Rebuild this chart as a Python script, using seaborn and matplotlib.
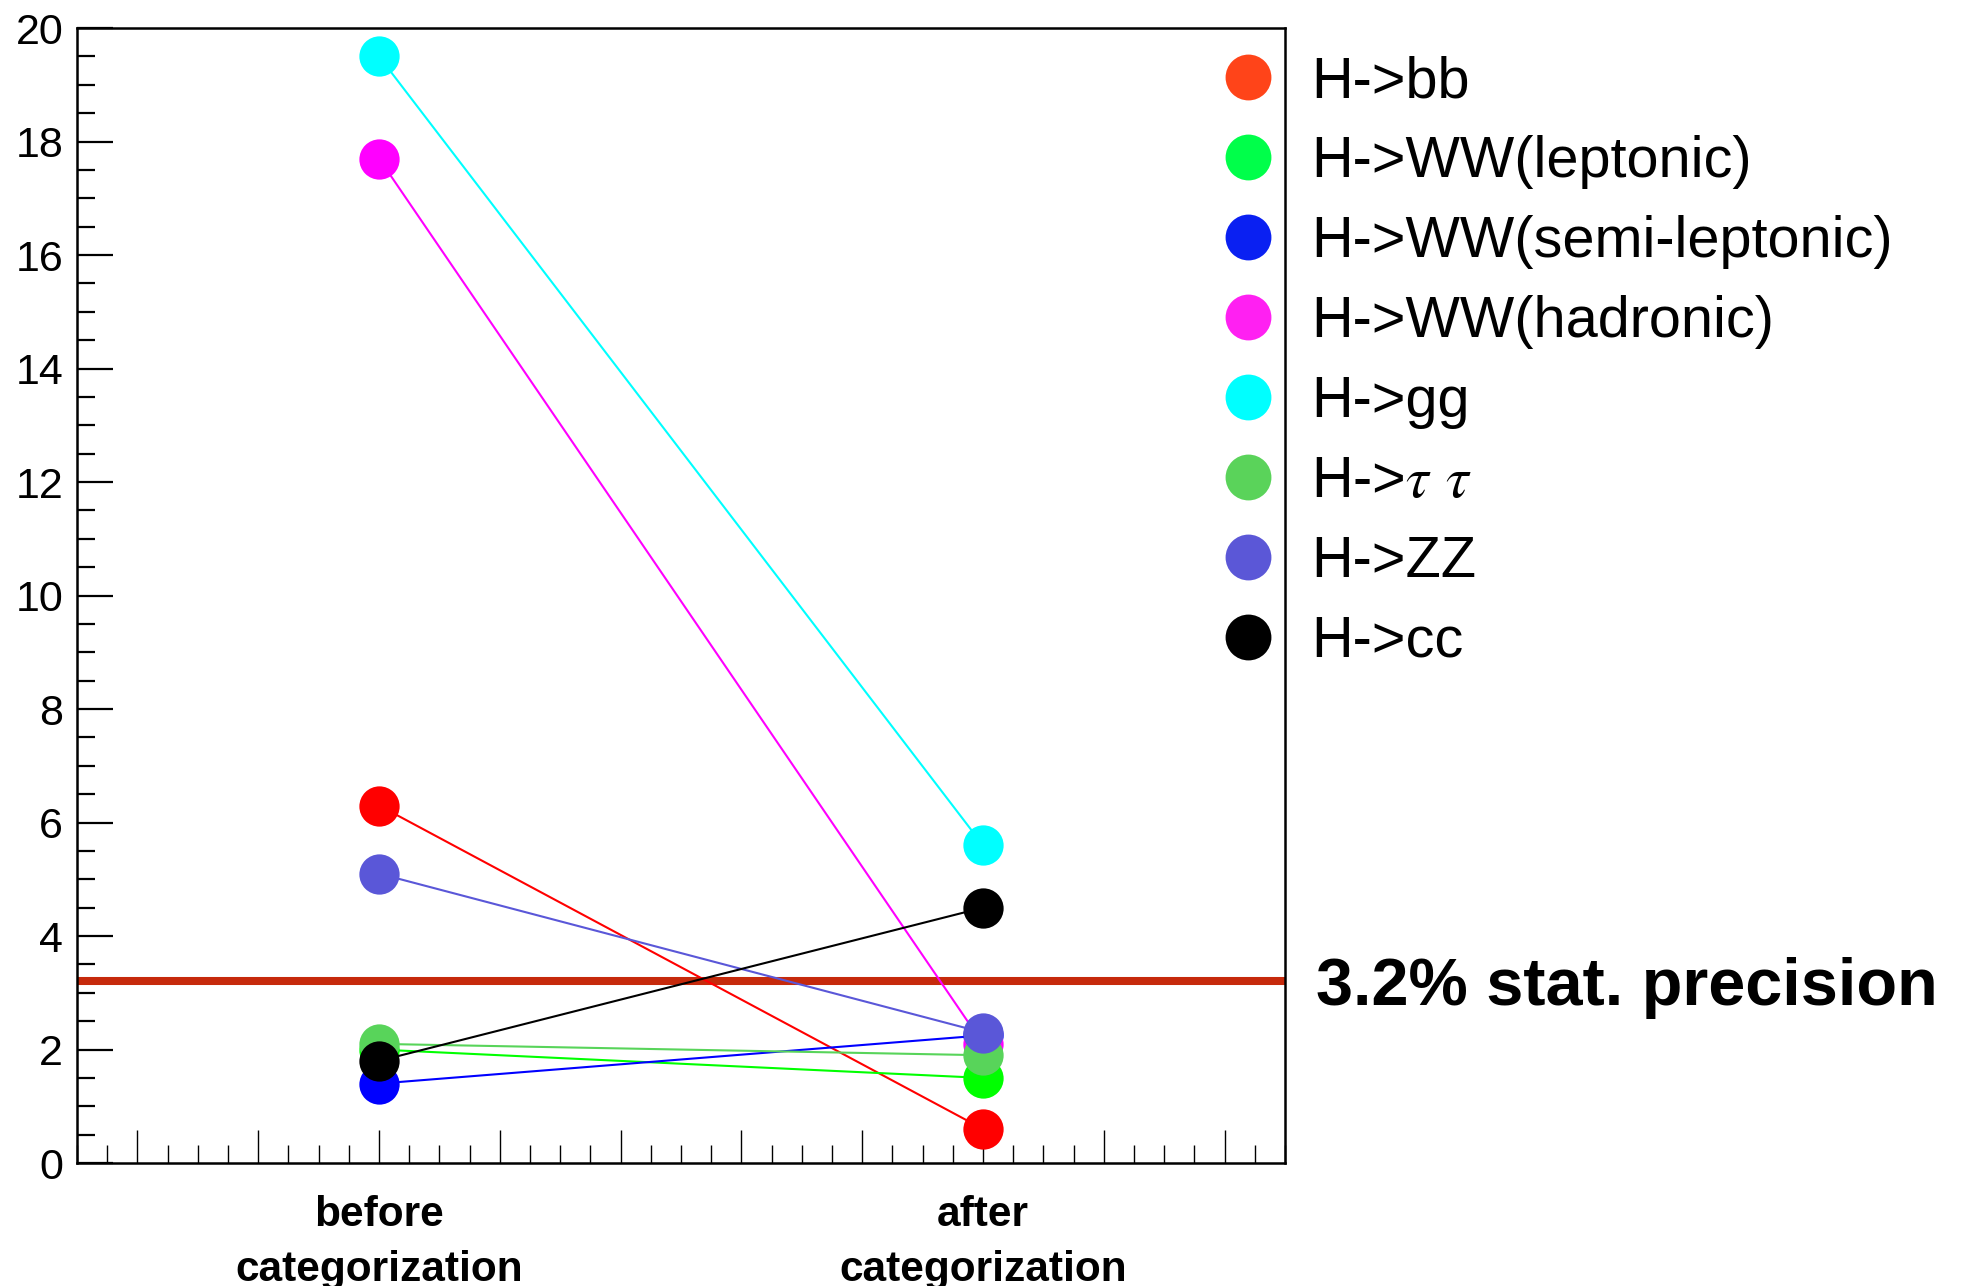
import matplotlib
matplotlib.use('Agg')
import matplotlib.pyplot as plt
from matplotlib.lines import Line2D
from matplotlib.ticker import MultipleLocator
import numpy as np
import pandas as pd
import seaborn as sns

# values
channels = ['H->bb', 'H->WW(leptonic)', 'H->WW(semi-leptonic)', 'H->WW(hadronic)',
            'H->gg', r'H->$\tau$ $\tau$', 'H->ZZ', 'H->cc']
before = [6.3, 2.0, 1.4, 17.7, 19.5, 2.1, 5.1, 1.8]
after = [0.6, 1.5, 2.25, 2.1, 5.6, 1.9, 2.3, 4.5]
stage_pos = [0.5, 1.5]
stage_labels = ['before\ncategorization', 'after\ncategorization']
line_colors = ['#ff0000', '#00ff00', '#0000ff', '#ff00ff', '#00ffff', '#58d45a', '#5a57d8', '#000000']
legend_colors = ['#ff4419', '#00ff4a', '#0a20f2', '#ff20f2', '#00ffff', '#5ad35a', '#5b57d7', '#000000']
precision = 3.2
precision_label = '3.2% stat. precision'

sns.set_style('ticks')
plt.rcParams['font.family'] = ['Liberation Sans', 'DejaVu Sans']
plt.rcParams['mathtext.fontset'] = 'stix'
plt.rcParams['text.color'] = 'black'
plt.rcParams['xtick.color'] = 'black'
plt.rcParams['ytick.color'] = 'black'

rows = []
for ch, b, a in zip(channels, before, after):
    rows.append({'channel': ch, 'stage': stage_pos[0], 'value': b})
    rows.append({'channel': ch, 'stage': stage_pos[1], 'value': a})
df = pd.DataFrame(rows)

fig = plt.figure(figsize=(19.7, 12.86), dpi=100)
ax = fig.add_axes([0.0391, 0.0956, 0.6132, 0.8826])

ax.axhline(precision, color='#c62a0c', lw=5.8, zorder=1)

sns.lineplot(data=df, x='stage', y='value', hue='channel', hue_order=channels,
             palette=dict(zip(channels, line_colors)), marker='o', markersize=29,
             markeredgewidth=0, linewidth=1.5, legend=False, ax=ax, zorder=3)

ax.set_xlim(0, 2)
ax.set_ylim(0, 20)
ax.set_xlabel('')
ax.set_ylabel('')

# x axis: long ticks every 0.2 starting at 0.1, short ticks every 0.05
major_x = np.arange(0.1, 2.0, 0.2)
xlabels = ['' for _ in major_x]
xlabels[2] = stage_labels[0]
xlabels[7] = stage_labels[1]
ax.set_xticks(major_x, labels=xlabels, fontsize=30.5, fontweight='bold', linespacing=1.47)
ax.xaxis.set_minor_locator(MultipleLocator(0.05))
ax.tick_params(axis='x', which='major', direction='in', length=24, width=1, pad=23)
ax.tick_params(axis='x', which='minor', direction='in', length=13, width=1)

ax.yaxis.set_major_locator(MultipleLocator(2))
ax.yaxis.set_minor_locator(MultipleLocator(0.5))
ax.tick_params(axis='y', which='major', direction='in', length=26, width=1.6, pad=10, labelsize=31)
ax.tick_params(axis='y', which='minor', direction='in', length=13, width=1.6)

for s in ax.spines.values():
    s.set_linewidth(1.8)
    s.set_color('black')

ax.annotate(precision_label, xy=(1, precision), xycoords=('axes fraction', 'data'),
            xytext=(22, -5), textcoords='offset points', va='center', ha='left',
            fontsize=48, fontweight='bold', color='black', annotation_clip=False)

handles = [Line2D([], [], marker='o', linestyle='none', markersize=33,
                  markerfacecolor=c, markeredgewidth=0) for c in legend_colors]
fig.legend(handles, channels, loc='center left', bbox_to_anchor=(1219 / 1970, 1 - 362 / 1286),
           frameon=False, fontsize=41.5, handlelength=1.0, handletextpad=0.6,
           labelspacing=0.45, borderpad=0, borderaxespad=0)

fig.savefig('out.png', dpi=100)
